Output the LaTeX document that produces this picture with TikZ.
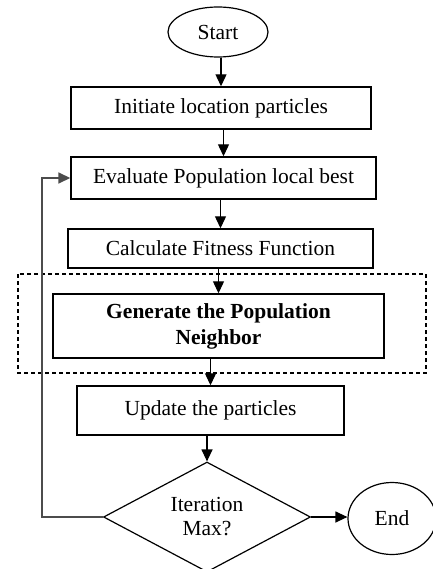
\documentclass[tikz,border=0pt]{standalone}
\usepackage{fontspec}
\setmainfont{Liberation Serif}
\usetikzlibrary{shapes.geometric,arrows.meta}

\tikzset{
  every node/.style={font=\fontsize{21.5}{25}\selectfont, inner sep=0pt},
  stepbox/.style={draw, rectangle, line width=1.4pt},
  terminal/.style={draw, ellipse, line width=1.2pt},
  decision/.style={draw, diamond, shape aspect=1.9, line width=1.2pt, align=center},
  flow/.style={line width=1.2pt, -{Triangle[length=12pt,width=11pt]}},
  loopline/.style={line width=1.6pt, draw=black!70, -{Triangle[length=12pt,width=11pt]}},
  groupframe/.style={draw, line width=1.2pt, dash pattern=on 4pt off 3pt},
}

\begin{document}
\begin{tikzpicture}[x=1pt,y=-1pt]
  \useasboundingbox (0,0) rectangle (432,569);

  % neighbourhood step highlighted by a dashed frame
  \draw[groupframe] (18,274) rectangle (426,373);

  % flowchart nodes
  \node[terminal, minimum width=100pt, minimum height=50pt] (start) at (218,32) {Start};
  \node[stepbox, minimum width=300pt, minimum height=42pt] (init) at (221,108) {Initiate location particles};
  \node[stepbox, minimum width=305pt, minimum height=42pt] (eval) at (223.5,178) {Evaluate Population local best};
  \node[stepbox, minimum width=305pt, minimum height=39pt] (fit) at (220.5,248.5) {Calculate Fitness Function};
  \node[stepbox, minimum width=331pt, minimum height=64pt, align=center, font=\fontsize{21.5}{26}\selectfont\bfseries] (gen) at (218.5,326) {Generate the Population\\Neighbor};
  \node[stepbox, minimum width=267pt, minimum height=49pt] (upd) at (210.5,410.5) {Update the particles};
  \node[decision, minimum width=207pt, minimum height=110pt, font=\fontsize{21.5}{24}\selectfont] (iter) at (207,517) {Iteration\\Max?};
  \node[terminal, minimum width=88pt, minimum height=72pt] (end) at (392,518.5) {End};

  % loop-back column
  \coordinate (back) at (42,0);

  % connectors
  \draw[flow] (init.north |- start.south) -- (init.north);
  \draw[flow] (eval.north |- init.south) -- (eval.north);
  \draw[flow] (fit.north |- eval.south) -- (fit.north);
  \draw[flow] (gen.north |- fit.south) -- (gen.north);
  \draw[flow] (upd.north |- gen.south) -- (upd.north);
  \draw[flow] (iter.north |- upd.south) -- (iter.north);
  \draw[flow] (iter.east) -- (iter.east -| end.west);
  \draw[loopline] (iter.west) -- (iter.west -| back) -- (eval.west -| back) -- (eval.west);
\end{tikzpicture}
\end{document}
